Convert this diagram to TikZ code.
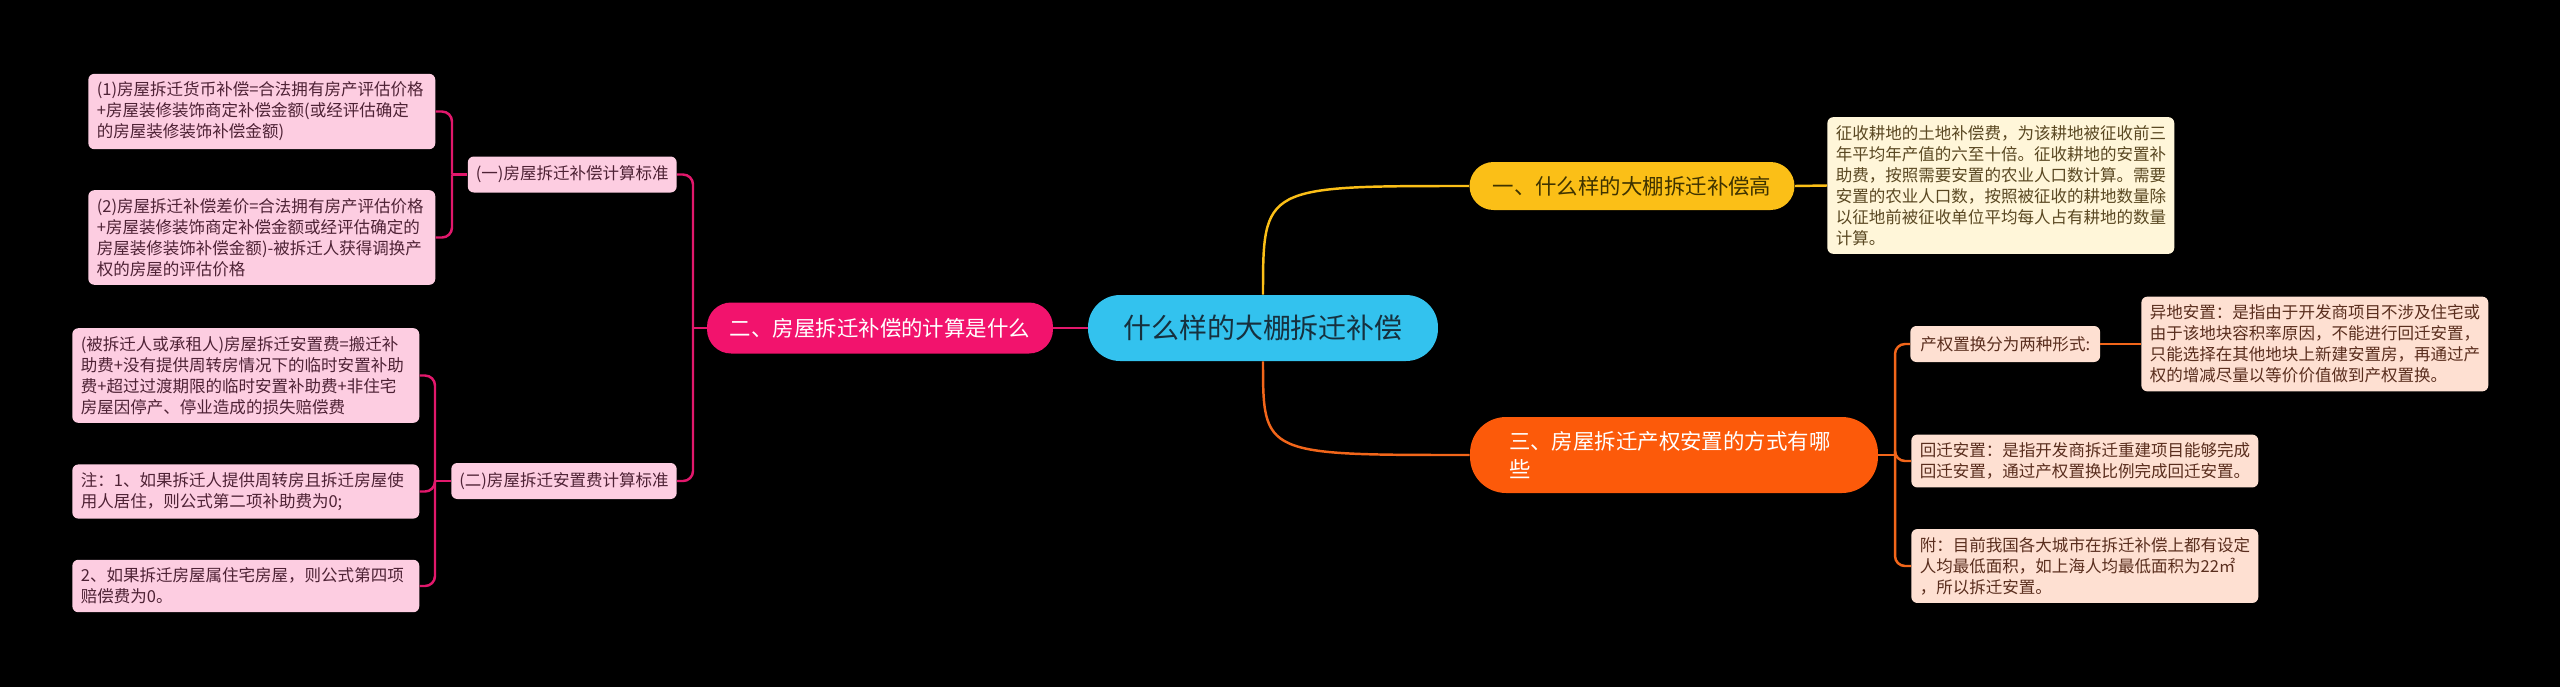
\documentclass[tikz,border=0pt]{standalone}
\usepackage{fontspec}
\setmainfont{Noto Sans CJK SC}
\definecolor{rootblue}{HTML}{33C2EE}
\definecolor{roottext}{HTML}{16303E}
\definecolor{ybranch}{HTML}{FBBF17}
\definecolor{ytext}{HTML}{3F3300}
\definecolor{yleaf}{HTML}{FFF6D9}
\definecolor{yleaftext}{HTML}{5A4822}
\definecolor{obranch}{HTML}{FC5A0A}
\definecolor{oline}{HTML}{F2661A}
\definecolor{oleaf}{HTML}{FEE0D2}
\definecolor{oleaftext}{HTML}{5A2E1E}
\definecolor{pbranch}{HTML}{F2136D}
\definecolor{pline}{HTML}{E2186C}
\definecolor{pleaf}{HTML}{FDCDE1}
\definecolor{pleaftext}{HTML}{4E2235}
\newcommand{\leaffont}{\fontsize{9.4pt}{12pt}\selectfont}
\newcommand{\branchfont}{\fontsize{12.2pt}{15.9pt}\selectfont}
\tikzset{
  rootnode/.style={fill=rootblue, text=roottext, rounded corners=0.64cm,
    minimum width=7cm, minimum height=1.32cm, font=\fontsize{15.9pt}{18pt}\selectfont},
  branch/.style={rounded corners=0.48cm, minimum height=0.96cm, font=\branchfont},
  leafbox/.style={rounded corners=0.12cm, text width=6.6cm, inner xsep=0.17cm,
    inner ysep=0.16cm, align=left, font=\leaffont},
  subbox/.style={rounded corners=0.12cm, inner xsep=0.16cm, minimum height=0.72cm, font=\leaffont},
  pinkconn/.style={draw=pline, line width=1.4pt, rounded corners=0.2cm},
  yconn/.style={draw=ybranch, line width=1.4pt},
  oconn/.style={draw=oline, line width=1.4pt, rounded corners=0.2cm}
}
\begin{document}
\begin{tikzpicture}[x=0.02cm,y=-0.02cm]
  % Background
  \fill[black] (0,0) rectangle (2560,687);
  \useasboundingbox (0,0) rectangle (2560,687);

  % Root
  \node[rootnode] (root) at (1263,328) {什么样的大棚拆迁补偿};

  % Main branches
  \node[branch, fill=ybranch, text=ytext, minimum width=6.5cm] (gao) at (1632,186) {一、什么样的大棚拆迁补偿高};
  \node[branch, fill=pbranch, text=white, minimum width=6.92cm, minimum height=1.02cm] (jisuan) at (880,328) {二、房屋拆迁补偿的计算是什么};
  \node[branch, fill=obranch, text=white, rounded corners=0.72cm, text width=6.6cm, align=left,
    inner xsep=0.78cm, minimum height=1.52cm] (fangshi) at (1674,455) {三、房屋拆迁产权安置的方式有哪\\些};

  % Yellow side
  \node[leafbox, fill=yleaf, text=yleaftext, anchor=west] (gaoleaf) at (1827,185.5)
    {征收耕地的土地补偿费，为该耕地被征收前三\\年平均年产值的六至十倍。征收耕地的安置补\\助费，按照需要安置的农业人口数计算。需要\\安置的农业人口数，按照被征收的耕地数量除\\以征地前被征收单位平均每人占有耕地的数量\\计算。};

  % Orange side
  \node[subbox, fill=oleaf, text=oleaftext, anchor=west, inner xsep=0.2cm] (zhihuan) at (1910,344) {产权置换分为两种形式:};
  \node[leafbox, fill=oleaf, text=oleaftext, anchor=west] (yidi) at (2141,344)
    {异地安置：是指由于开发商项目不涉及住宅或\\由于该地块容积率原因，不能进行回迁安置，\\只能选择在其他地块上新建安置房，再通过产\\权的增减尽量以等价价值做到产权置换。};
  \node[leafbox, fill=oleaf, text=oleaftext, anchor=west] (huiqian) at (1911,461)
    {回迁安置：是指开发商拆迁重建项目能够完成\\回迁安置，通过产权置换比例完成回迁安置。};
  \node[leafbox, fill=oleaf, text=oleaftext, anchor=west] (fu) at (1911,566)
    {附：目前我国各大城市在拆迁补偿上都有设定\\人均最低面积，如上海人均最低面积为22㎡\\，所以拆迁安置。};

  % Pink side
  \node[subbox, fill=pleaf, text=pleaftext, anchor=east] (biaozhun1) at (677,174.5) {(一)房屋拆迁补偿计算标准};
  \node[subbox, fill=pleaf, text=pleaftext, anchor=east] (biaozhun2) at (677,481) {(二)房屋拆迁安置费计算标准};
  \node[leafbox, fill=pleaf, text=pleaftext, anchor=west] (huobi) at (88,111.5)
    {(1)房屋拆迁货币补偿=合法拥有房产评估价格\\+房屋装修装饰商定补偿金额(或经评估确定\\的房屋装修装饰补偿金额)};
  \node[leafbox, fill=pleaf, text=pleaftext, anchor=west] (chajia) at (88,237.5)
    {(2)房屋拆迁补偿差价=合法拥有房产评估价格\\+房屋装修装饰商定补偿金额或经评估确定的\\房屋装修装饰补偿金额)-被拆迁人获得调换产\\权的房屋的评估价格};
  \node[leafbox, fill=pleaf, text=pleaftext, anchor=west] (anzhi) at (72,375.5)
    {(被拆迁人或承租人)房屋拆迁安置费=搬迁补\\助费+没有提供周转房情况下的临时安置补助\\费+超过过渡期限的临时安置补助费+非住宅\\房屋因停产、停业造成的损失赔偿费};
  \node[leafbox, fill=pleaf, text=pleaftext, anchor=west] (zhu1) at (72,491.5)
    {注：1、如果拆迁人提供周转房且拆迁房屋使\\用人居住，则公式第二项补助费为0;};
  \node[leafbox, fill=pleaf, text=pleaftext, anchor=west] (zhu2) at (72,586)
    {2、如果拆迁房屋属住宅房屋，则公式第四项\\赔偿费为0。};

  % Junctions
  \coordinate (pj) at (693,328);
  \coordinate (aj) at (452,174.5);
  \coordinate (bj) at (435,481);
  \coordinate (oj) at (1895,455);

  % Connectors from root
  \draw[pinkconn] (root.west) -- (jisuan.east);
  \draw[yconn] (root.north) .. controls (1263,186) .. (gao.west);
  \draw[oconn] (root.south) .. controls (1263,455) .. (fangshi.west);

  % Yellow
  \draw[yconn] (gao.east) -- (gaoleaf.west);

  % Orange
  \draw[oconn] (fangshi.east) -- (oj);
  \draw[oconn] (oj) |- (zhihuan.west);
  \draw[oconn] (oj) |- (huiqian.west);
  \draw[oconn] (oj) |- (fu.west);
  \draw[oconn] (zhihuan.east) -- (yidi.west);

  % Pink
  \draw[pinkconn] (jisuan.west) -- (pj);
  \draw[pinkconn] (pj) |- (biaozhun1.east);
  \draw[pinkconn] (pj) |- (biaozhun2.east);
  \draw[pinkconn] (biaozhun1.west) -- (aj);
  \draw[pinkconn] (aj) |- (huobi.east);
  \draw[pinkconn] (aj) |- (chajia.east);
  \draw[pinkconn] (biaozhun2.west) -- (bj);
  \draw[pinkconn] (bj) |- (anzhi.east);
  \draw[pinkconn] (bj) |- (zhu1.east);
  \draw[pinkconn] (bj) |- (zhu2.east);
\end{tikzpicture}
\end{document}
